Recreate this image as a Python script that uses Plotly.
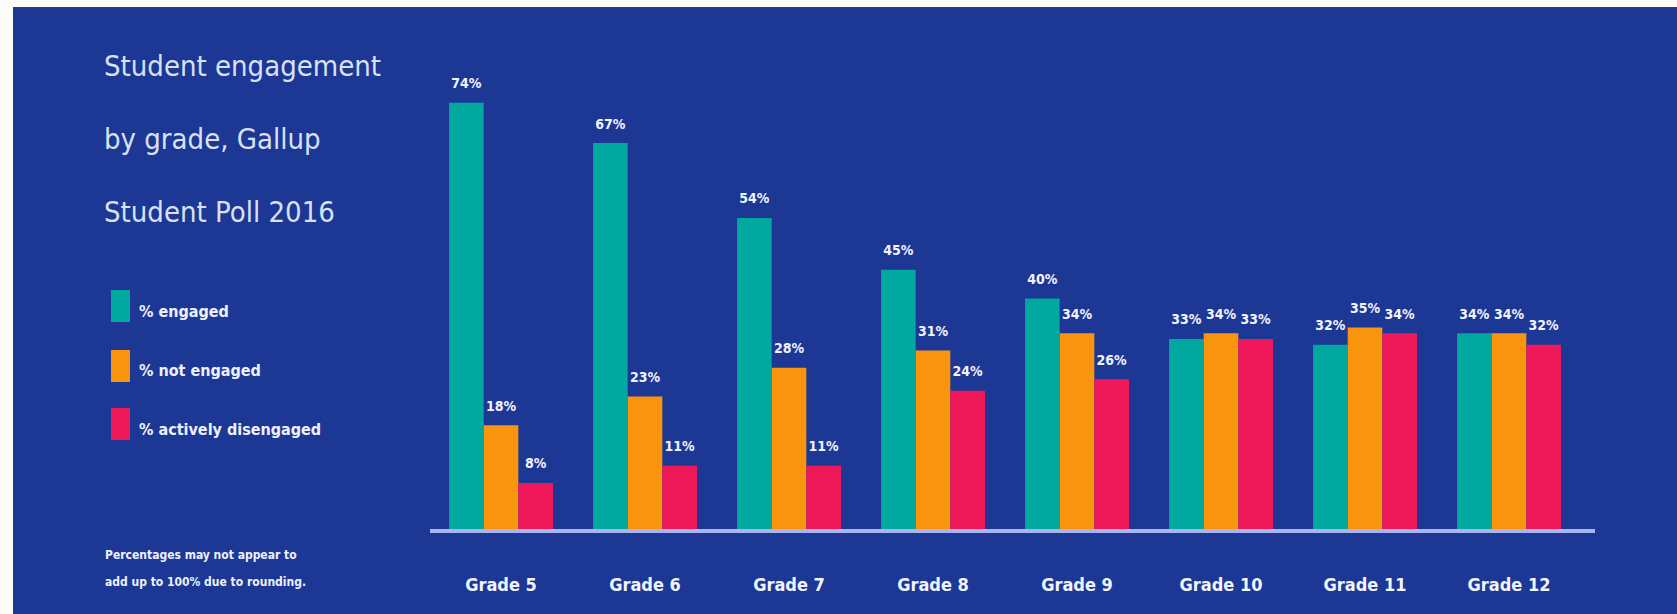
import plotly.graph_objects as go

grades = ["Grade 5", "Grade 6", "Grade 7", "Grade 8", "Grade 9", "Grade 10", "Grade 11", "Grade 12"]
engaged = [74, 67, 54, 45, 40, 33, 32, 34]
not_engaged = [18, 23, 28, 31, 34, 34, 35, 34]
disengaged = [8, 11, 11, 24, 26, 33, 34, 32]
series_names = ["% engaged", "% not engaged", "% actively disengaged"]
title_lines = ["Student engagement", "by grade, Gallup", "Student Poll 2016"]
footnote_lines = ["Percentages may not appear to", "add up to 100% due to rounding."]

W, H = 1677, 614
L, R = 430, 1595           # plot area pixel extents
T, B = 40, 529
BG = "#1d3795"
COLORS = ["#00a89f", "#f9940e", "#ef1858"]
NARROW = "Liberation Sans Narrow, DejaVu Sans Condensed, Arial Narrow, sans-serif"
GAP = 0.278


def px(x):
    return (x - L) / (R - L)


def py(y):
    return (B - y) / (B - T)


fig = go.Figure()
all_vals = [engaged, not_engaged, disengaged]
for name, vals, col in zip(series_names, all_vals, COLORS):
    fig.add_trace(go.Bar(
        x=grades, y=vals, name=name, marker=dict(color=col, line=dict(width=0)),
        showlegend=False, hoverinfo="skip",
    ))
# value labels: grouped text-only scatter traces aligned with the bars
for name, vals in zip(series_names, all_vals):
    fig.add_trace(go.Scatter(
        x=grades, y=vals, mode="markers+text", text=[f"{v}%" for v in vals],
        textposition="top center", cliponaxis=False,
        marker=dict(size=16, color="rgba(0,0,0,0)"),
        textfont=dict(family=NARROW, size=14, color="#f2f4ff", weight="bold"),
        showlegend=False, hoverinfo="skip",
    ))

px_per_pct = 5.76
ymax = (B - T) / px_per_pct
cat_px = 144.0
x0 = (L - 501) / cat_px
x1 = (R - 501) / cat_px

shapes = []
# white border strips at left and top
shapes.append(dict(type="rect", xref="paper", yref="paper", x0=px(0), x1=px(13), y0=py(H), y1=py(0),
                   fillcolor="#fbfbf8", line=dict(width=0), layer="above"))
shapes.append(dict(type="rect", xref="paper", yref="paper", x0=px(0), x1=px(W), y0=py(7), y1=py(0),
                   fillcolor="#fbfbf8", line=dict(width=0), layer="above"))

annotations = []
for i, t in enumerate(title_lines):
    annotations.append(dict(xref="paper", yref="paper", x=px(102), y=py(66 + 73 * i), text=t,
                            showarrow=False, xanchor="left", yanchor="middle",
                            font=dict(family=NARROW, size=29, color="#d9e1f4")))

leg_y = [306, 366, 424]
for name, col, yc in zip(series_names, COLORS, leg_y):
    shapes.append(dict(type="rect", xref="paper", yref="paper", x0=px(111), x1=px(130),
                       y0=py(yc + 16), y1=py(yc - 16), fillcolor=col, line=dict(width=0)))
    annotations.append(dict(xref="paper", yref="paper", x=px(137), y=py(yc + 5), text=name,
                            showarrow=False, xanchor="left", yanchor="middle",
                            font=dict(family=NARROW, size=16, color="#eef1ff", weight="bold")))

for i, t in enumerate(footnote_lines):
    annotations.append(dict(xref="paper", yref="paper", x=px(103), y=py(555 + 27 * i), text=t,
                            showarrow=False, xanchor="left", yanchor="middle",
                            font=dict(family=NARROW, size=12, color="#eef1ff", weight="bold")))

fig.update_layout(
    width=W, height=H,
    margin=dict(l=L, r=W - R, t=T, b=H - B, pad=0),
    paper_bgcolor=BG, plot_bgcolor=BG,
    barmode="group", bargap=GAP, bargroupgap=0,
    scattermode="group", scattergap=GAP,
    shapes=shapes, annotations=annotations,
)
fig.update_xaxes(range=[x0, x1], showline=True, linecolor="#a8b5f0", linewidth=4,
                 showgrid=False, zeroline=False, ticks="outside", ticklen=36,
                 tickcolor="rgba(0,0,0,0)",
                 tickfont=dict(family=NARROW, size=18, color="#f2f4ff", weight="bold"))
fig.update_yaxes(range=[0, ymax], visible=False, showgrid=False, zeroline=False)

fig.write_html("out.html", config={"displayModeBar": False},
               post_script="document.body.style.margin='0';document.body.style.overflow='hidden';")
